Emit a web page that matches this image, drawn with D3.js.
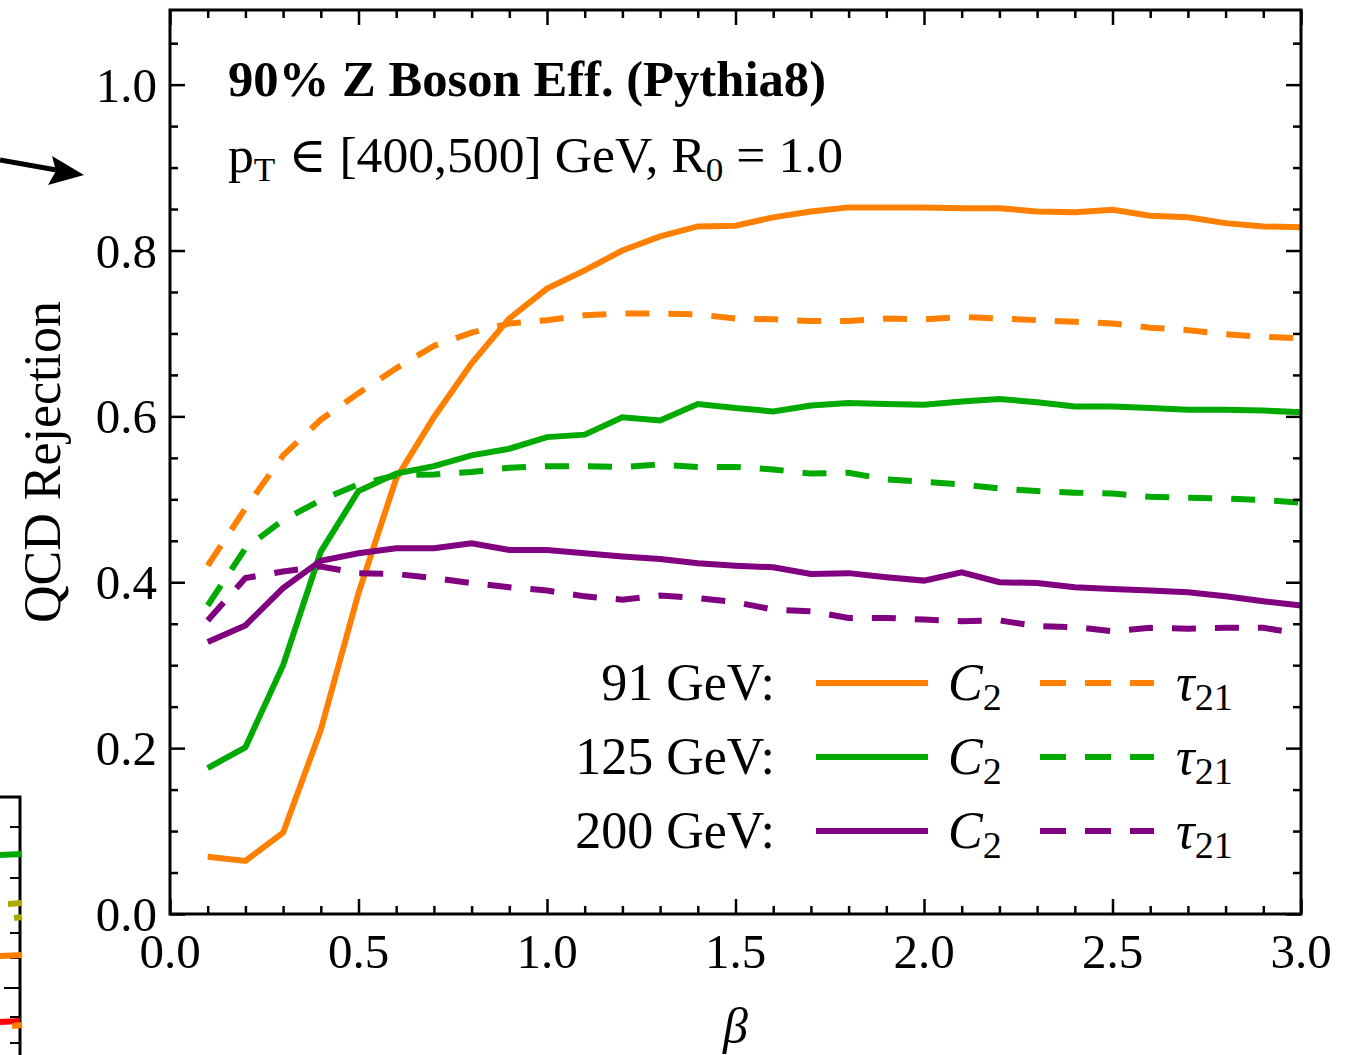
<!DOCTYPE html>
<html>
<head>
<meta charset="utf-8">
<script src="https://cdn.jsdelivr.net/npm/d3@7"></script>
<style>
  body { margin: 0; background: #fff; }
  svg { display: block; }
  text { font-family: "Liberation Serif", "DejaVu Serif", serif; fill: #000; }
</style>
</head>
<body>
<div id="wrapper"></div>
<script>

// data
const betas = [0.1, 0.2, 0.3, 0.4, 0.5, 0.6, 0.7, 0.8, 0.9, 1.0,
               1.1, 1.2, 1.3, 1.4, 1.5, 1.6, 1.7, 1.8, 1.9, 2.0,
               2.1, 2.2, 2.3, 2.4, 2.5, 2.6, 2.7, 2.8, 2.9, 3.0];

const c2_91   = [0.069,0.064,0.098,0.222,0.387,0.525,0.599,0.664,0.718,0.754,
                 0.776,0.800,0.817,0.829,0.830,0.840,0.847,0.852,0.852,0.852,
                 0.851,0.851,0.847,0.846,0.849,0.842,0.840,0.833,0.829,0.828];
const tau_91  = [0.420,0.489,0.553,0.596,0.628,0.658,0.685,0.701,0.712,0.716,
                 0.722,0.724,0.724,0.723,0.718,0.717,0.715,0.715,0.718,0.717,
                 0.720,0.718,0.716,0.714,0.712,0.707,0.704,0.699,0.696,0.694];
const c2_125  = [0.176,0.201,0.300,0.437,0.510,0.531,0.540,0.553,0.561,0.575,
                 0.578,0.599,0.595,0.615,0.610,0.606,0.613,0.616,0.615,0.614,
                 0.618,0.621,0.617,0.612,0.612,0.610,0.608,0.608,0.607,0.605];
const tau_125 = [0.372,0.441,0.475,0.499,0.518,0.529,0.530,0.533,0.538,0.540,
                 0.540,0.539,0.542,0.539,0.539,0.536,0.531,0.532,0.524,0.521,
                 0.518,0.513,0.510,0.508,0.507,0.503,0.502,0.501,0.499,0.496];
const c2_200  = [0.328,0.348,0.393,0.426,0.435,0.441,0.441,0.447,0.439,0.439,
                 0.435,0.431,0.428,0.423,0.420,0.418,0.410,0.411,0.406,0.402,
                 0.412,0.400,0.399,0.394,0.392,0.390,0.388,0.383,0.377,0.372];
const tau_200 = [0.354,0.405,0.413,0.419,0.411,0.410,0.405,0.399,0.394,0.390,
                 0.383,0.379,0.384,0.381,0.376,0.367,0.365,0.357,0.357,0.355,
                 0.353,0.354,0.347,0.346,0.341,0.345,0.344,0.345,0.345,0.338];

const massLabels = ["91 GeV:", "125 GeV:", "200 GeV:"];
const colors = ["#ff8000", "#00aa00", "#800080"];
const xTicks = [0, 0.5, 1.0, 1.5, 2.0, 2.5, 3.0];
const yTicks = [0, 0.2, 0.4, 0.6, 0.8, 1.0];

const series = [
    { values: c2_91,   color: colors[0], dashed: false },
    { values: tau_91,  color: colors[0], dashed: true },
    { values: c2_125,  color: colors[1], dashed: false },
    { values: tau_125, color: colors[1], dashed: true },
    { values: c2_200,  color: colors[2], dashed: false },
    { values: tau_200, color: colors[2], dashed: true }
];

function drawChart() {

    const dms = {
        width: 1354,
        height: 1055,
        margins: { top: 10, right: 53, bottom: 141, left: 170 }
    };
    dms.innerWidth = dms.width - dms.margins.left - dms.margins.right;
    dms.innerHeight = dms.height - dms.margins.top - dms.margins.bottom;

    const svg = d3.select("#wrapper")
        .append("svg")
            .attr("width", dms.width)
            .attr("height", dms.height);

    // bits of the neighbouring panel that got cropped in
    const nb = svg.append("g");
    nb.append("line")
        .attr("x1", 0).attr("y1", 160).attr("x2", 62).attr("y2", 171)
        .attr("stroke", "#000").attr("stroke-width", 5);
    nb.append("path")
        .attr("d", "M84,175 L48,185 L56,171 L52,156 Z")
        .attr("fill", "#000");
    nb.append("path")
        .attr("d", "M0,797 H20 V1055")
        .attr("fill", "none").attr("stroke", "#000").attr("stroke-width", 3);
    [827, 853, 878, 905, 933, 958, 988, 1017, 1043].forEach((ty, i) => {
        nb.append("line")
            .attr("x1", i % 5 === 1 ? 4 : 10).attr("x2", 20)
            .attr("y1", ty).attr("y2", ty)
            .attr("stroke", "#000").attr("stroke-width", 2);
    });
    [["#00aa00", 855, 0, 22], ["#aaaa00", 904, 8, 22], ["#aaaa00", 918, 14, 22],
     ["#ff8000", 956, 0, 22], ["#ff0000", 1022, 0, 20], ["#ff8000", 1026, 12, 22]]
        .forEach(([c, ty, a, b]) => {
            nb.append("line")
                .attr("x1", a).attr("x2", b).attr("y1", ty).attr("y2", ty - 1)
                .attr("stroke", c).attr("stroke-width", 6);
        });

    const inner = svg.append("g")
        .attr("transform", `translate(${dms.margins.left},${dms.margins.top})`);

    // scales
    const xScale = d3.scaleLinear()
        .domain([0, 3])
        .range([0, dms.innerWidth]);

    const yScale = d3.scaleLinear()
        .domain([0, 1.09])
        .range([dms.innerHeight, 0]);

    // lines
    const lineGen = d3.line()
        .x((d, i) => xScale(betas[i]))
        .y(d => yScale(d));

    inner.append("g")
        .selectAll("path")
        .data(series)
        .join("path")
            .attr("d", d => lineGen(d.values))
            .attr("fill", "none")
            .attr("stroke", d => d.color)
            .attr("stroke-width", 6)
            .attr("stroke-dasharray", d => d.dashed ? "24 19" : null);

    // axes, ticks pointing inward on all sides
    const minorX = d3.range(0, 31).map(i => i / 10);
    const minorY = d3.range(0, 22).map(i => i / 20);

    function tickGroup(axisFn, scale, ticks, size, translate) {
        const g = inner.append("g")
            .attr("transform", translate)
            .call(axisFn(scale).tickValues(ticks).tickSize(size).tickFormat(""));
        g.select(".domain").remove();
        g.selectAll("line").attr("stroke", "#000").attr("stroke-width", 2.5);
        return g;
    }
    const minX = minorX.filter(v => !xTicks.some(t => Math.abs(t - v) < 1e-6));
    const minY = minorY.filter(v => !yTicks.some(t => Math.abs(t - v) < 1e-6));

    tickGroup(d3.axisBottom, xScale, xTicks, -15, `translate(0,${dms.innerHeight})`);
    tickGroup(d3.axisBottom, xScale, minX, -8, `translate(0,${dms.innerHeight})`);
    tickGroup(d3.axisTop, xScale, xTicks, -15, "translate(0,0)");
    tickGroup(d3.axisTop, xScale, minX, -8, "translate(0,0)");
    tickGroup(d3.axisLeft, yScale, yTicks, -15, "translate(0,0)");
    tickGroup(d3.axisLeft, yScale, minY, -8, "translate(0,0)");
    tickGroup(d3.axisRight, yScale, yTicks, -15, `translate(${dms.innerWidth},0)`);
    tickGroup(d3.axisRight, yScale, minY, -8, `translate(${dms.innerWidth},0)`);

    inner.append("rect")
        .attr("width", dms.innerWidth)
        .attr("height", dms.innerHeight)
        .attr("fill", "none")
        .attr("stroke", "#000")
        .attr("stroke-width", 3);

    // tick labels
    inner.append("g")
        .selectAll("text")
        .data(xTicks)
        .join("text")
            .attr("x", d => xScale(d))
            .attr("y", dms.innerHeight + 54)
            .attr("text-anchor", "middle")
            .style("font-size", "49px")
            .text(d => d.toFixed(1));

    inner.append("g")
        .selectAll("text")
        .data(yTicks)
        .join("text")
            .attr("x", -13)
            .attr("y", d => yScale(d) + 17)
            .attr("text-anchor", "end")
            .style("font-size", "49px")
            .text(d => d.toFixed(1));

    // axis labels
    inner.append("text")
        .attr("x", xScale(1.5))
        .attr("y", dms.innerHeight + 129)
        .attr("text-anchor", "middle")
        .style("font-size", "50px")
        .style("font-style", "italic")
        .text("β");

    inner.append("text")
        .attr("transform", `translate(${-110},${yScale(0.545)}) rotate(-90)`)
        .attr("text-anchor", "middle")
        .style("font-size", "52px")
        .text("QCD Rejection");

    // title block
    inner.append("text")
        .attr("x", 58)
        .attr("y", 86)
        .style("font-size", "50px")
        .style("font-weight", "bold")
        .attr("textLength", 598)
        .attr("lengthAdjust", "spacingAndGlyphs")
        .text("90% Z Boson Eff. (Pythia8)");

    const sub = inner.append("text")
        .attr("x", 58)
        .attr("y", 162)
        .style("font-size", "50px")
        .attr("textLength", 615)
        .attr("lengthAdjust", "spacingAndGlyphs");
    sub.append("tspan").text("p");
    sub.append("tspan").attr("dy", 9).style("font-size", "34px").text("T");
    sub.append("tspan").attr("dy", -9).text(" ∈ [400,500] GeV, R");
    sub.append("tspan").attr("dy", 9).style("font-size", "34px").text("0");
    sub.append("tspan").attr("dy", -9).text(" = 1.0");

    // legend
    const legendRows = [683, 757, 831].map(v => v - dms.margins.top);
    const legend = inner.append("g");
    massLabels.forEach((lab, i) => {
        const ly = legendRows[i];
        legend.append("text")
            .attr("x", 605).attr("y", ly + 17)
            .attr("text-anchor", "end")
            .style("font-size", "52px")
            .text(lab);
        legend.append("line")
            .attr("x1", 646).attr("x2", 758).attr("y1", ly).attr("y2", ly)
            .attr("stroke", colors[i]).attr("stroke-width", 6);
        const c = legend.append("text")
            .attr("x", 778).attr("y", ly + 17)
            .style("font-size", "52px");
        c.append("tspan").style("font-style", "italic").text("C");
        c.append("tspan").attr("dy", 10).style("font-size", "38px").text("2");
        legend.append("line")
            .attr("x1", 870).attr("x2", 984).attr("y1", ly).attr("y2", ly)
            .attr("stroke", colors[i]).attr("stroke-width", 6)
            .attr("stroke-dasharray", "26 19");
        const t = legend.append("text")
            .attr("x", 1006).attr("y", ly + 17)
            .style("font-size", "52px");
        t.append("tspan").style("font-style", "italic").text("τ");
        t.append("tspan").attr("dy", 10).style("font-size", "38px").text("21");
    });
}

drawChart();
</script>
</body>
</html>
